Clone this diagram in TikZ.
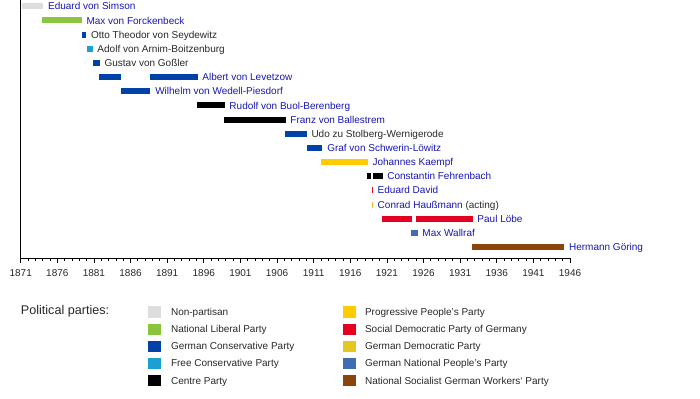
\documentclass[tikz,border=0pt]{standalone}
\usepackage{fontspec}
\setmainfont{Liberation Sans}
\usetikzlibrary{positioning}
% party colours
\definecolor{nonpartisan}{RGB}{221,221,221}
\definecolor{natlib}{RGB}{139,196,63}
\definecolor{gcons}{RGB}{0,66,168}
\definecolor{freecons}{RGB}{28,160,210}
\definecolor{centre}{RGB}{0,0,0}
\definecolor{progress}{RGB}{255,204,0}
\definecolor{spd}{RGB}{227,0,33}
\definecolor{ddp}{RGB}{229,199,32}
\definecolor{dnvp}{RGB}{64,108,180}
\definecolor{nsdap}{RGB}{139,69,10}
\definecolor{linkblue}{RGB}{22,22,180}
\definecolor{plaingray}{RGB}{40,40,40}
\tikzset{
	pbar/.style={line width=6bp}, % one term of office
	pname/.style={anchor=base west, inner sep=0pt, xshift=1.8bp, yshift=-3.6bp,
		text=linkblue, font=\fontsize{10bp}{12bp}\selectfont}, % name after the last bar
	pplain/.style={pname, text=plaingray}, % names without a link
	axis/.style={line width=1bp, line cap=rect},
	swatch/.style={minimum width=12.7bp, minimum height=11.5bp, inner sep=0pt},
	legtext/.style={anchor=base west, inner sep=0pt, yshift=-3.6bp,
		font=\fontsize{10bp}{12bp}\selectfont, text=plaingray},
}

\begin{document}
\begin{tikzpicture}[x=1bp, y=-1bp]
	\useasboundingbox (0,0) rectangle (700,398);

	%% the time line: x in years, y in rows
	\begin{scope}[shift={(20.7,6.3)}, x=7.324bp, y=-14.16bp, shift={(-1871,0)}]
	\coordinate (top) at (1871,-0.45);
	\coordinate (origin) at (1871,17.8);
	\coordinate (end) at (1946,17.8);

	\draw[pbar, nonpartisan] (1871.14,0) -- (1874.09,0) node[pname] (simson) {Eduard von Simson};
	\draw[pbar, natlib] (1873.95,1) -- (1879.33,1) node[pname] (forckenbeck) {Max von Forckenbeck};
	\draw[pbar, gcons] (1879.33,2) -- (1879.95,2) node[pplain] (seydewitz) {Otto Theodor von Seydewitz};
	\draw[pbar, freecons] (1880.01,3) -- (1880.83,3) node[pplain] (arnim) {Adolf von Arnim-Boitzenburg};
	\draw[pbar, gcons] (1880.91,4) -- (1881.8,4) node[pplain] (gossler) {Gustav von Goßler};
	% Levetzow had two terms
	\draw[pbar, gcons] (1881.75,5) -- (1884.75,5);
	\draw[pbar, gcons] (1888.68,5) -- (1895.15,5) node[pname] (levetzow) {Albert von Levetzow};
	\draw[pbar, gcons] (1884.72,6) -- (1888.72,6) node[pname] (wedell) {Wilhelm von Wedell-Piesdorf};
	\draw[pbar, centre] (1895.1,7) -- (1898.85,7) node[pname] (buol) {Rudolf von Buol-Berenberg};
	\draw[pbar, centre] (1898.8,8) -- (1907.18,8) node[pname] (ballestrem) {Franz von Ballestrem};
	\draw[pbar, gcons] (1907.12,9) -- (1910.05,9) node[pplain] (stolberg) {Udo zu Stolberg-Wernigerode};
	\draw[pbar, gcons] (1910.05,10) -- (1912.2,10) node[pname] (schwerin) {Graf von Schwerin-Löwitz};
	\draw[pbar, progress] (1911.98,11) -- (1918.38,11) node[pname] (kaempf) {Johannes Kaempf};
	%% revolution: the Reichstag breaks off
	\draw[pbar, centre] (1918.26,12) -- (1918.87,12);
	\draw[pbar, centre] (1919.05,12) -- (1920.4,12) node[pname] (fehrenbach) {Constantin Fehrenbach};
	\draw[pbar, spd] (1918.95,13) -- (1919.09,13) node[pname] (david) {Eduard David};
	\draw[pbar, ddp] (1918.95,14) -- (1919.09,14) node[pname] (haussmann) {Conrad Haußmann \textcolor{plaingray}{(acting)}};
	% Löbe had two terms
	\draw[pbar, spd] (1920.3,15) -- (1924.38,15);
	\draw[pbar, spd] (1924.98,15) -- (1932.71,15) node[pname] (loebe) {Paul Löbe};
	\draw[pbar, dnvp] (1924.32,16) -- (1925.2,16) node[pname] (wallraf) {Max Wallraf};
	\draw[pbar, nsdap] (1932.58,17) -- (1945.22,17) node[pname] (goering) {Hermann Göring};

	%% axes, ticks every year, labels every five years
	\draw[axis] (top) -- (origin) -- (end);
	\foreach \yr in {1871,...,1946}
		\draw[line width=0.8bp] (\yr,17.8) -- ++(0,-2.4bp);
	\foreach \yr in {1871,1876,...,1946}
		\draw[line width=0.8bp] (\yr,17.8) -- ++(0,-4.5bp)
			node[anchor=base, inner sep=0pt, yshift=-14.1bp, font=\fontsize{10bp}{12bp}\selectfont, text=plaingray] (t\yr) {\yr};
	\end{scope}

	%% legend
	\node[anchor=base west, inner sep=0pt, font=\fontsize{12.6bp}{14bp}\selectfont, text=plaingray] (legend) at (20.7,314.2) {Political parties:};
	% first column
	\node[swatch, fill=nonpartisan] (sw1) at (154.6,312.2) {};
	\node[swatch, fill=natlib, below=5.15bp of sw1] (sw2) {};
	\node[swatch, fill=gcons, below=5.15bp of sw2] (sw3) {};
	\node[swatch, fill=freecons, below=5.15bp of sw3] (sw4) {};
	\node[swatch, fill=centre, below=5.15bp of sw4] (sw5) {};
	\node[right=9.7bp of sw1, legtext] {Non-partisan};
	\node[right=9.7bp of sw2, legtext] {National Liberal Party};
	\node[right=9.7bp of sw3, legtext] {German Conservative Party};
	\node[right=9.7bp of sw4, legtext] {Free Conservative Party};
	\node[right=9.7bp of sw5, legtext] {Centre Party};
	% second column
	\node[swatch, fill=progress] (sw6) at (349.3,312.2) {};
	\node[swatch, fill=spd, below=5.15bp of sw6] (sw7) {};
	\node[swatch, fill=ddp, below=5.15bp of sw7] (sw8) {};
	\node[swatch, fill=dnvp, below=5.15bp of sw8] (sw9) {};
	\node[swatch, fill=nsdap, below=5.15bp of sw9] (sw10) {};
	\node[right=9bp of sw6, legtext] {Progressive People's Party};
	\node[right=9bp of sw7, legtext] {Social Democratic Party of Germany};
	\node[right=9bp of sw8, legtext] {German Democratic Party};
	\node[right=9bp of sw9, legtext] {German National People's Party};
	\node[right=9bp of sw10, legtext] {National Socialist German Workers` Party};
\end{tikzpicture}
\end{document}
